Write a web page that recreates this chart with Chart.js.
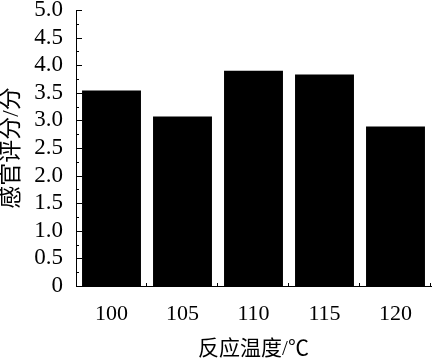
<!DOCTYPE html>
<html>
<head>
<meta charset="utf-8">
<script src="https://cdn.jsdelivr.net/npm/chart.js@4"></script>
<style>
  html, body { margin: 0; padding: 0; background: #fff; }
  #wrap { width: 432px; height: 363px; }
</style>
</head>
<body>
<div id="wrap"><canvas id="scoreBar"></canvas></div>
<script>
// data
var temps = ['100', '105', '110', '115', '120'];
var scores = [3.54, 3.07, 3.90, 3.83, 2.89];
var yMin = 0, yMax = 5, yStep = 0.5, yMinorStep = 0.25;

var fontFamily = "'Liberation Serif', 'Times New Roman', 'Noto Sans CJK SC', serif";

// inward ticks like the original figure
var innerTicks = {
    id: 'innerTicks',
    afterDatasetsDraw: function (chart) {
        var ctx = chart.ctx;
        var y = chart.scales.y, x = chart.scales.x;
        ctx.save();
        ctx.strokeStyle = '#000';
        ctx.lineWidth = 1;
        ctx.beginPath();
        for (var v = yMin; v <= yMax + 1e-9; v += yMinorStep) {
            var py = Math.round(y.getPixelForValue(v)) + 0.5;
            var major = Math.abs(v / yStep - Math.round(v / yStep)) < 1e-6;
            ctx.moveTo(y.right, py);
            ctx.lineTo(y.right + (major ? 6 : 3), py);
        }
        var half = (x.getPixelForTick(1) - x.getPixelForTick(0)) / 2;
        for (var i = 0; i < temps.length; i++) {
            var px = Math.round(x.getPixelForTick(i) + half) - 0.5;
            ctx.moveTo(px, x.top);
            ctx.lineTo(px, x.top - 3);
        }
        ctx.stroke();
        ctx.restore();
    }
};

new Chart(document.getElementById('scoreBar').getContext('2d'), {
    type: 'bar',
    data: {
        labels: temps,
        datasets: [{
            data: scores,
            backgroundColor: '#000',
            borderWidth: 0,
            categoryPercentage: 1,
            barPercentage: 0.83
        }]
    },
    options: {
        responsive: true,
        maintainAspectRatio: false,
        animation: false,
        layout: { padding: { top: 10, right: 1, left: 0, bottom: 0 } },
        plugins: { legend: { display: false }, tooltip: { enabled: false } },
        scales: {
            x: {
                grid: { display: false, drawTicks: false },
                border: { display: true, color: '#000', width: 1 },
                ticks: { color: '#000', padding: 17, font: { family: fontFamily, size: 22, lineHeight: 1 } },
                title: {
                    display: true, text: '反应温度/℃', color: '#000',
                    font: { family: fontFamily, size: 21, lineHeight: 1 },
                    padding: { top: 0, bottom: 3 }
                },
                afterFit: function (s) { s.height = 77; s.paddingLeft = 0; s.paddingRight = 0; }
            },
            y: {
                min: yMin, max: yMax,
                grid: { display: false, drawTicks: false },
                border: { display: true, color: '#000', width: 1 },
                ticks: {
                    stepSize: yStep, color: '#000', padding: 13,
                    font: { family: fontFamily, size: 23, lineHeight: 1 },
                    callback: function (v) { return v === 0 ? '0' : v.toFixed(1); }
                },
                title: {
                    display: true, text: '感官评分/分', color: '#000',
                    font: { family: fontFamily, size: 23, lineHeight: 1 },
                    padding: { top: 0, bottom: 0 }
                },
                afterFit: function (s) { s.width = 76; s.paddingTop = 0; s.paddingBottom = 0; }
            }
        }
    },
    plugins: [innerTicks]
});
</script>
</body>
</html>
